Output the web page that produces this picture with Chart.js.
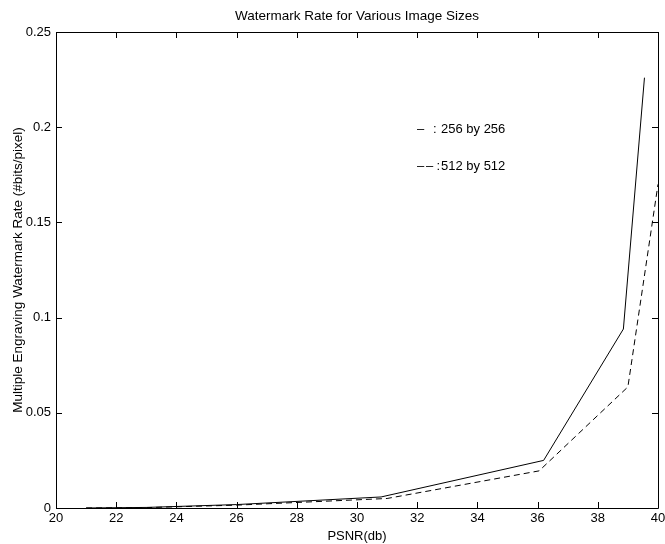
<!DOCTYPE html>
<html>
<head>
<meta charset="utf-8">
<script src="https://cdn.jsdelivr.net/npm/chart.js@4/dist/chart.umd.min.js"></script>
<style>
  html, body { margin: 0; padding: 0; background: #fff; }
  #wrap { width: 665px; height: 544px; }
</style>
</head>
<body>
<div id="wrap"><canvas id="c" width="665" height="544"></canvas></div>
<script>
// ---- data ----
const chartTitle = 'Watermark Rate for Various Image Sizes';
const xTitle = 'PSNR(db)';
const yTitle = 'Multiple Engraving Watermark Rate (#bits/pixel)';
const seriesNames = ['256 by 256', '512 by 512'];

const psnr256 = [21, 23, 26, 30.8, 36.2, 38.85, 39.55];
const rate256 = [0, 0.0003, 0.0018, 0.0058, 0.025, 0.094, 0.226];

const psnr512 = [21, 23, 26, 31, 36.05, 39.0, 40];
const rate512 = [0, 0.0002, 0.0015, 0.0050, 0.0195, 0.0636, 0.170];

const xTickValues = [20, 22, 24, 26, 28, 30, 32, 34, 36, 38, 40];
const xTickLabels = ['20', '22', '24', '26', '28', '30', '32', '34', '36', '38', '40'];
const yTickValues = [0, 0.05, 0.1, 0.15, 0.2, 0.25];
const yTickLabels = ['0', '0.05', '0.1', '0.15', '0.2', '0.25'];

const FONT = '"Liberation Sans", Arial, Helvetica, sans-serif';

function toPoints(xs, ys) { return xs.map((x, i) => ({ x: x, y: ys[i] })); }

const frameAndTicks = {
  id: 'frameAndTicks',
  afterDatasetsDraw(chart) {
    const ctx = chart.ctx;
    const a = chart.chartArea;
    const xs = chart.scales.x, ys = chart.scales.y;
    const L = 6;
    ctx.save();
    ctx.strokeStyle = '#000';
    ctx.lineWidth = 1;
    ctx.beginPath();
    ctx.rect(Math.round(a.left) + 0.5, Math.round(a.top) + 0.5,
             Math.round(a.right) - Math.round(a.left), Math.round(a.bottom) - Math.round(a.top));
    ctx.stroke();
    ctx.beginPath();
    xTickValues.forEach(v => {
      const px = Math.round(xs.getPixelForValue(v)) + 0.5;
      ctx.moveTo(px, a.bottom); ctx.lineTo(px, a.bottom - L);
      ctx.moveTo(px, a.top); ctx.lineTo(px, a.top + L);
    });
    yTickValues.forEach(v => {
      const py = Math.round(ys.getPixelForValue(v)) + 0.5;
      ctx.moveTo(a.left, py); ctx.lineTo(a.left + L, py);
      ctx.moveTo(a.right, py); ctx.lineTo(a.right - L, py);
    });
    ctx.stroke();

    ctx.fillStyle = '#000';
    ctx.textBaseline = 'middle';

    // title centred over the plot area
    ctx.font = '13.5px ' + FONT;
    ctx.textAlign = 'center';
    ctx.fillText(chartTitle, (a.left + a.right) / 2, 16);

    // in-plot text key (as in the reference)
    ctx.font = '13px ' + FONT;
    ctx.textAlign = 'left';
    ctx.fillText('\u2013', 417, 129);
    ctx.fillText(':', 433, 129);
    ctx.fillText(seriesNames[0], 441, 129);
    ctx.fillText('\u2013', 417, 166.5);
    ctx.fillText('\u2013', 426, 166.5);
    ctx.fillText(':', 436.5, 166.5);
    ctx.fillText(seriesNames[1], 441, 166.5);
    ctx.restore();
  }
};

new Chart(document.getElementById('c'), {
  type: 'line',
  data: {
    datasets: [
      {
        label: seriesNames[0],
        data: toPoints(psnr256, rate256),
        borderColor: '#000',
        borderWidth: 1,
        pointRadius: 0,
        tension: 0,
        fill: false
      },
      {
        label: seriesNames[1],
        data: toPoints(psnr512, rate512),
        borderColor: '#000',
        borderWidth: 1,
        borderDash: [6, 4],
        pointRadius: 0,
        tension: 0,
        fill: false
      }
    ]
  },
  options: {
    responsive: false,
    animation: false,
    devicePixelRatio: 1,
    layout: { padding: { left: 0, right: 7, top: 32, bottom: 0 } },
    plugins: {
      legend: { display: false },
      tooltip: { enabled: false },
      title: { display: false }
    },
    scales: {
      x: {
        type: 'linear',
        min: 20, max: 40,
        afterBuildTicks(scale) { scale.ticks = xTickValues.map(v => ({ value: v })); },
        afterFit(scale) { scale.height = 36; scale.paddingRight = 0; scale.paddingLeft = 0; },
        grid: { display: false, drawTicks: false },
        border: { display: false },
        ticks: {
          color: '#000',
          padding: 3,
          maxRotation: 0,
          autoSkip: false,
          font: { family: FONT, size: 13 },
          callback(v) { const i = xTickValues.indexOf(v); return i >= 0 ? xTickLabels[i] : ''; }
        },
        title: {
          display: true,
          text: xTitle,
          color: '#000',
          font: { family: FONT, size: 13 },
          padding: { top: 0, bottom: 0 }
        }
      },
      y: {
        type: 'linear',
        min: 0, max: 0.25,
        afterBuildTicks(scale) { scale.ticks = yTickValues.map(v => ({ value: v })); },
        afterFit(scale) { scale.width = 56; scale.paddingTop = 0; scale.paddingBottom = 0; },
        grid: { display: false, drawTicks: false },
        border: { display: false },
        ticks: {
          color: '#000',
          padding: 5,
          autoSkip: false,
          font: { family: FONT, size: 13 },
          callback(v) {
            let best = 0;
            yTickValues.forEach((t, i) => { if (Math.abs(t - v) < Math.abs(yTickValues[best] - v)) best = i; });
            return yTickLabels[best];
          }
        },
        title: {
          display: true,
          text: yTitle,
          color: '#000',
          font: { family: FONT, size: 13.5 },
          padding: { top: 10, bottom: 0 }
        }
      }
    }
  },
  plugins: [frameAndTicks]
});
</script>
</body>
</html>
